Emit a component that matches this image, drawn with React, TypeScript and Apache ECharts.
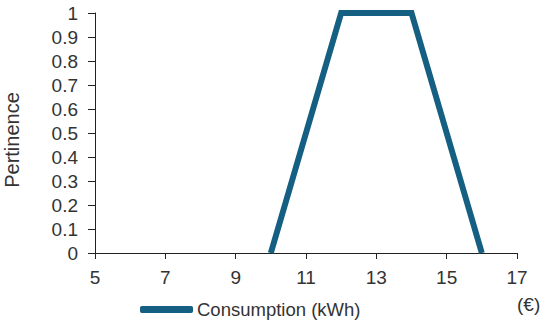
import React, { useEffect, useRef } from "react";
import * as echarts from "echarts";

const seriesName = "Consumption (kWh)";
const xValues = [10, 12, 14, 16];
const yValues = [0, 1, 1, 0];
const xUnit = "(€)";
const yTitle = "Pertinence";

export default function App() {
  const ref = useRef<HTMLDivElement>(null);
  useEffect(() => {
    if (!ref.current) return;
    const chart = echarts.init(ref.current, null, { renderer: "svg" });
    const font = "Liberation Sans, Arial, sans-serif";
    chart.setOption({
      animation: false,
      grid: { left: 95, right: 33, top: 13, bottom: 72, containLabel: false },
      xAxis: {
        type: "value",
        min: 5,
        max: 17,
        interval: 2,
        splitLine: { show: false },
        axisLine: { show: true, lineStyle: { color: "#222", width: 1 } },
        axisTick: { show: true, length: 6, lineStyle: { color: "#222" } },
        axisLabel: { margin: 15, color: "#333", fontSize: 19, fontFamily: font },
      },
      yAxis: {
        type: "value",
        min: 0,
        max: 1,
        interval: 0.1,
        splitLine: { show: false },
        axisLine: { show: true, lineStyle: { color: "#222", width: 1 } },
        axisTick: { show: true, length: 7, lineStyle: { color: "#222" } },
        axisLabel: { margin: 17, color: "#333", fontSize: 19, fontFamily: font },
      },
      legend: {
        show: true,
        left: 140,
        top: 300,
        padding: 0,
        icon: "roundRect",
        itemWidth: 53,
        itemHeight: 7,
        itemGap: 10,
        textStyle: { color: "#333", fontSize: 18.5, fontFamily: font, padding: [0, 0, 0, -1] },
        data: [seriesName],
      },
      graphic: [
        {
          type: "text",
          left: 517,
          top: 295,
          style: { text: xUnit, fill: "#333", font: `19px ${font}` },
        },
        {
          type: "text",
          x: 12,
          y: 140,
          rotation: Math.PI / 2,
          style: {
            text: yTitle,
            fill: "#333",
            font: `20px ${font}`,
            align: "center",
            verticalAlign: "middle",
          },
        },
      ],
      series: [
        {
          name: seriesName,
          type: "line",
          data: xValues.map((x, i) => [x, yValues[i]]),
          symbol: "none",
          clip: false,
          lineStyle: { color: "#156082", width: 6, join: "miter" },
          itemStyle: { color: "#156082" },
        },
      ],
    });
    return () => chart.dispose();
  }, []);
  return <div ref={ref} style={{ width: 550, height: 325, position: "absolute", left: 0, top: 0 }} />;
}
